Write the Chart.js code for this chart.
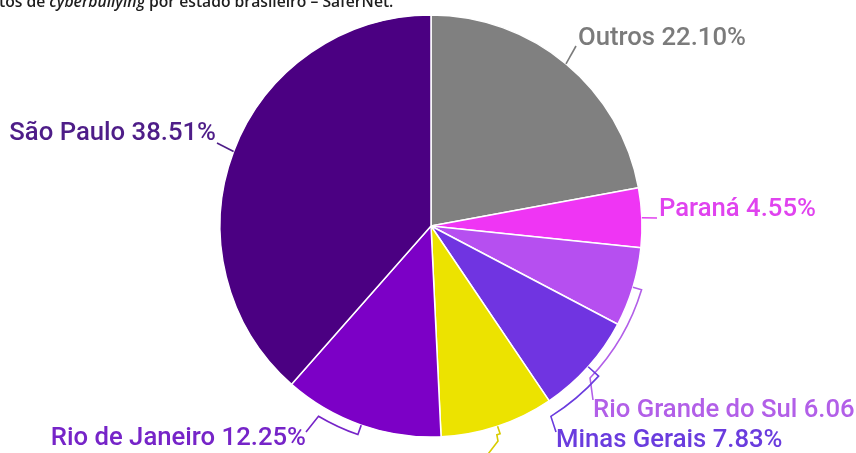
<!DOCTYPE html>
<html lang="pt-BR">
<head>
<meta charset="utf-8">
<title>Casos de cyberbullying por estado brasileiro – SaferNet</title>
<script src="https://cdn.jsdelivr.net/npm/chart.js@4.4.1/dist/chart.umd.min.js"></script>
<style>
  html, body { margin: 0; padding: 0; background: #fff; overflow: hidden; }
  #wrap { position: relative; width: 856px; height: 453px; }
</style>
</head>
<body>
<div id="wrap"><canvas id="pieChart" width="856" height="453"></canvas></div>
<script>
// Estados (sentido horário a partir do topo) e percentuais
const categories = ["Outros", "Paraná", "Rio Grande do Sul", "Minas Gerais", "", "Rio de Janeiro", "São Paulo"];
const shares = [22.10, 4.55, 6.06, 7.83, 8.70, 12.25, 38.51];
const sliceColors = ["#808080", "#ef35f4", "#b64ff0", "#7034e1", "#ece300", "#7c00c6", "#4b0082"];
const labelColors = ["#7b7b7b", "#e043ef", "#b25fe8", "#6a3cde", "#d8cc00", "#7624c8", "#4e1d88"];

// Posição dos rótulos e traçado das linhas-guia (arcTo em graus, sentido horário)
const labelLayout = [
  { end: [576, 46], text: [578, 45], align: "left" },
  { end: [657, 218], text: [659, 216], align: "left" },
  { arcTo: 43.7, gap: 9, end: [593, 400], text: [593, 417], align: "left" },
  { arcTo: 57.8, gap: 14, end: [556, 432], text: [556, 447], align: "left" },
  { arcTo: 72.5, gap: 8, via: [[498, 441]], end: [482, 462], text: null },
  { arcTo: 120.6, gap: 10, end: [306, 432], text: [306, 445], align: "right" },
  { end: [217, 143], text: [216, 140], align: "right" }
];

const pieLabels = {
  id: "pieLabels",
  afterDraw(chart) {
    const ctx = chart.ctx;
    const arcs = chart.getDatasetMeta(0).data;

    ctx.save();
    ctx.lineWidth = 1.6;
    ctx.font = "500 25.7px Roboto";
    ctx.textBaseline = "alphabetic";

    arcs.forEach((arc, i) => {
      const cfg = labelLayout[i];
      const mid = (arc.startAngle + arc.endAngle) / 2;
      const r = arc.outerRadius;
      const cx = arc.x;
      const cy = arc.y;

      ctx.strokeStyle = labelColors[i];
      ctx.beginPath();
      ctx.moveTo(cx + r * Math.cos(mid), cy + r * Math.sin(mid));
      if (cfg.arcTo !== undefined) {
        const rr = r + cfg.gap;
        ctx.lineTo(cx + rr * Math.cos(mid), cy + rr * Math.sin(mid));
        ctx.arc(cx, cy, rr, mid, cfg.arcTo * Math.PI / 180, false);
      }
      (cfg.via || []).forEach(p => ctx.lineTo(p[0], p[1]));
      ctx.lineTo(cfg.end[0], cfg.end[1]);
      ctx.stroke();

      if (cfg.text) {
        ctx.fillStyle = labelColors[i];
        ctx.textAlign = cfg.align;
        ctx.fillText(`${categories[i]} ${shares[i].toFixed(2)}%`, cfg.text[0], cfg.text[1]);
      }
    });

    // Legenda da figura (cortada no topo)
    const parts = [
      ["tos de ", "600 15.7px 'Open Sans'"],
      ["cyberbullying", "italic 600 15.7px 'Open Sans'"],
      [" por estado brasileiro – SaferNet.", "600 15.7px 'Open Sans'"]
    ];
    let x = -1;
    ctx.fillStyle = "#1e1e1e";
    ctx.textAlign = "left";
    parts.forEach(([t, f]) => {
      ctx.font = f;
      ctx.fillText(t, x, 7);
      x += ctx.measureText(t).width;
    });
    ctx.restore();
  }
};

new Chart(document.getElementById("pieChart"), {
  type: "pie",
  data: {
    labels: categories,
    datasets: [{
      data: shares,
      backgroundColor: sliceColors,
      borderColor: "#ffffff",
      borderWidth: 1.5,
      radius: 211
    }]
  },
  options: {
    responsive: false,
    animation: false,
    events: [],
    layout: { padding: { left: 6, right: 0, top: 0, bottom: 1 } },
    plugins: {
      legend: { display: false },
      tooltip: { enabled: false }
    }
  },
  plugins: [pieLabels]
});
</script>
</body>
</html>
